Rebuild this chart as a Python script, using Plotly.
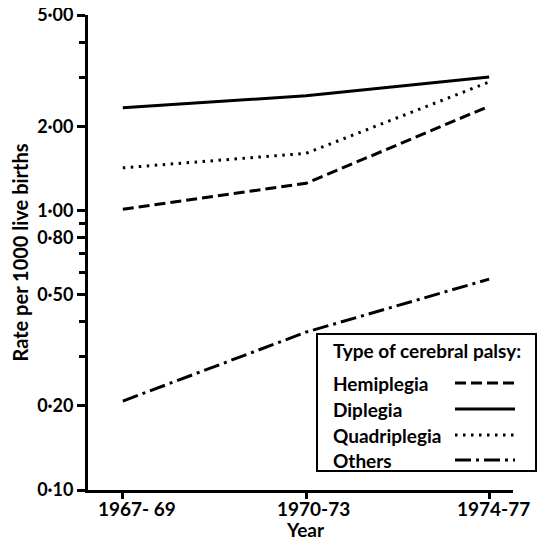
import math
import plotly.graph_objects as go

years = ["1967- 69", "1970-73", "1974-77"]
hemiplegia = [1.01, 1.25, 2.36]
diplegia = [2.33, 2.57, 3.00]
quadriplegia = [1.42, 1.60, 2.88]
others = [0.208, 0.367, 0.568]

series_names = ["Hemiplegia", "Diplegia", "Quadriplegia", "Others"]
series_values = [hemiplegia, diplegia, quadriplegia, others]
series_dash = ["11px,5px", "solid", "2.5px,5.5px", "16px,5px,3px,5px"]

y_tickvals = [0.1, 0.2, 0.5, 0.8, 1.0, 2.0, 5.0]
y_ticktext = ["0·10", "0·20", "0·50", "0·80", "1·00", "2·00", "5·00"]
y_minorvals = [0.3, 0.4, 0.6, 0.7, 0.9, 3.0, 4.0]

# page has an 8px body margin; figure sized to fit inside the 546x542 window
OFF = 8
W, H = 530, 534
PL, PR, PT, PB = 88, 513, 15, 490          # plot area in window pixels
L, R, T, B = PL - OFF, W - (PR - OFF), PT - OFF, H - (PB - OFF)
FONT = "Lato"
FS = 19

fig = go.Figure()
xs = list(range(len(years)))
for name, vals, dash in zip(series_names, series_values, series_dash):
    fig.add_trace(go.Scatter(
        x=xs, y=vals, mode="lines", name=name,
        line=dict(color="black", width=3, dash=dash), showlegend=False,
    ))

def px(x):
    return (x - PL) / (PR - PL)

def py(y):
    return (PB - y) / (PB - PT)

tfont = dict(size=FS, color="black", family=FONT, weight=700)

shapes = [dict(type="rect", xref="paper", yref="paper",
               x0=px(317), x1=px(536), y0=py(471), y1=py(334),
               line=dict(color="black", width=2), fillcolor="white", layer="above")]
annotations = [dict(text="Type of cerebral palsy:", xref="paper", yref="paper",
                    x=px(331), y=py(350), xanchor="left", yanchor="middle",
                    showarrow=False, font=tfont)]
item_y = [383, 409, 435, 460]
for name, dash, yy in zip(series_names, series_dash, item_y):
    annotations.append(dict(text=name, xref="paper", yref="paper", x=px(331), y=py(yy),
                            xanchor="left", yanchor="middle", showarrow=False, font=tfont))
    shapes.append(dict(type="line", xref="paper", yref="paper", x0=px(455), x1=px(515),
                       y0=py(yy), y1=py(yy), line=dict(color="black", width=3, dash=dash),
                       layer="above"))

# x tick labels (placed as text under each category tick)
label_xshift = [14, 7, 4]
for i, lab in enumerate(years):
    annotations.append(dict(text=lab, xref="x", yref="paper", x=xs[i], y=py(508),
                            xanchor="center", yanchor="middle", xshift=label_xshift[i],
                            showarrow=False, font=tfont))
annotations.append(dict(text="Year", xref="paper", yref="paper", x=px(305), y=py(529),
                        xanchor="center", yanchor="middle", showarrow=False, font=tfont))

fig.update_layout(
    width=W, height=H,
    margin=dict(l=L, r=R, t=T, b=B, pad=0),
    paper_bgcolor="white", plot_bgcolor="white",
    font=dict(family=FONT, color="black", size=FS, weight=700),
    shapes=shapes, annotations=annotations,
    xaxis=dict(
        range=[-0.19, 2.13], tickvals=xs, showticklabels=False,
        showline=True, linecolor="black", linewidth=3, showgrid=False, zeroline=False,
        ticks="outside", ticklen=6, tickwidth=3, tickcolor="black", automargin=False,
    ),
    yaxis=dict(
        type="log", range=[-1, math.log10(5.0) + 1e-6], tickvals=y_tickvals, ticktext=y_ticktext,
        showline=True, linecolor="black", linewidth=3, showgrid=False, zeroline=False,
        ticks="outside", ticklen=8, tickwidth=3, tickcolor="black", automargin=False,
        tickfont=dict(size=18, color="black", family=FONT, weight=700), ticklabeloverflow="allow",
        minor=dict(tickvals=y_minorvals, ticks="outside", ticklen=6, tickwidth=3,
                   tickcolor="black", showgrid=False),
        title=dict(text="Rate per 1000 live births", font=dict(size=20, family=FONT, weight=700), standoff=7),
    ),
)

fig.write_html("out.html")
